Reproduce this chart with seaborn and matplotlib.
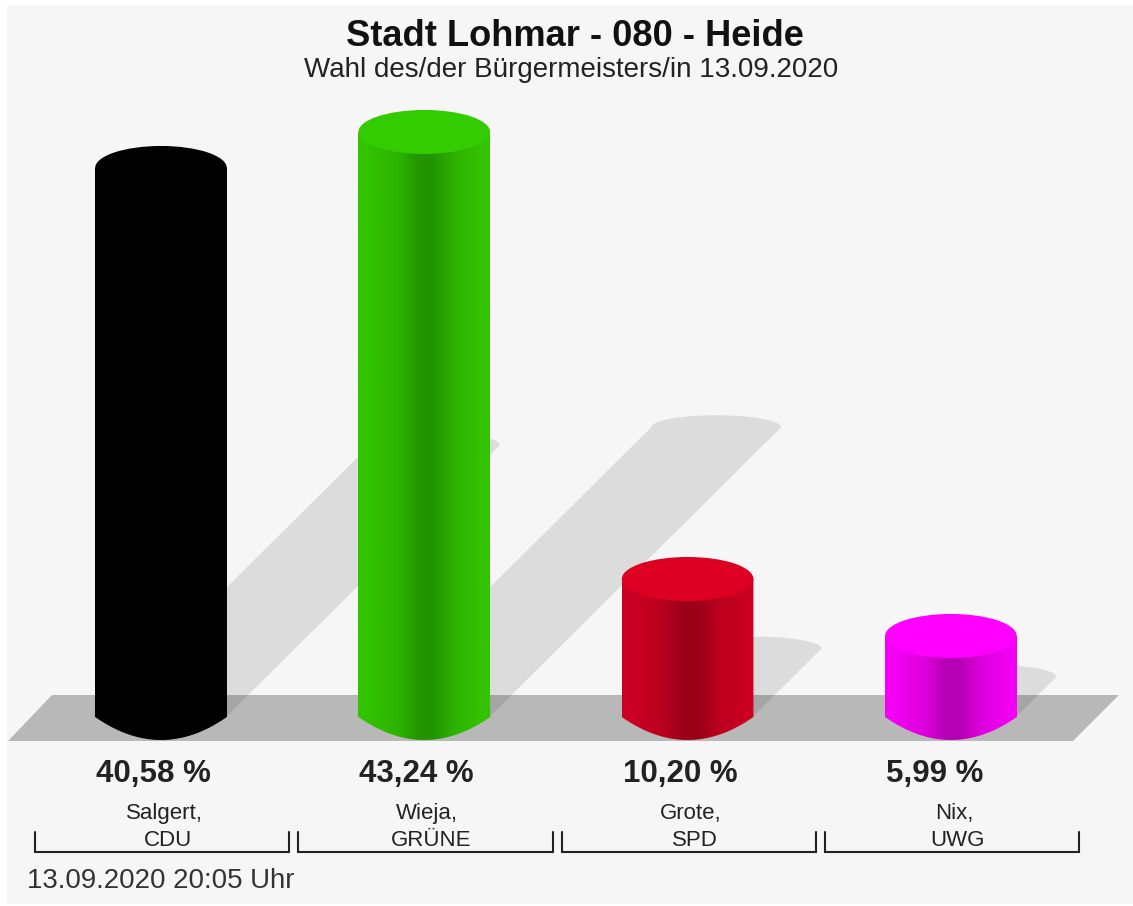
import numpy as np
import pandas as pd
import seaborn as sns
import matplotlib.pyplot as plt
from matplotlib.colors import LinearSegmentedColormap, to_rgb
from matplotlib.patches import Ellipse, Polygon, Rectangle
from matplotlib.path import Path

# Data
candidates = ['Salgert', 'Wieja', 'Grote', 'Nix']
parties = ['CDU', 'GRÜNE', 'SPD', 'UWG']
shares = [40.58, 43.24, 10.20, 5.99]
share_labels = ['40,58 %', '43,24 %', '10,20 %', '5,99 %']

# top / side edge / dark centre of each cylinder
bright = ['#000000', '#33cc00', '#dd0022', '#ff00ff']
side = ['#000000', '#33c400', '#cc0022', '#f400f4']
dark = ['#000000', '#229400', '#990018', '#b400b4']

title = 'Stadt Lohmar - 080 - Heide'
subtitle = 'Wahl des/der Bürgermeisters/in 13.09.2020'
stamp = '13.09.2020 20:05 Uhr'

W, H = 1133, 906
BAR_STEP = 263.3    # px between categories
FIRST_BAR = 161     # px centre of the first bar
PX_PER_PCT = 13.53  # px per percent
BASE = 717          # px row of zero


def xd(px):
    return (px - FIRST_BAR) / BAR_STEP


def yd(px):
    return (BASE - px) / PX_PER_PCT


sns.set_theme(style='white')
plt.rcParams['font.family'] = ['Liberation Sans', 'DejaVu Sans']

df = pd.DataFrame({'candidate': candidates, 'share': shares})

fig = plt.figure(figsize=(W / 100, H / 100), dpi=100, facecolor='white')
ax = fig.add_axes([0, 0, 1, 1])

sns.barplot(data=df, x='candidate', y='share', hue='candidate', palette=side,
            width=0.5, legend=False, saturation=1, linewidth=0, edgecolor='none', ax=ax)
bars = list(ax.patches)

# background panel and floor
ax.add_patch(Rectangle((xd(7), yd(904)), xd(W + 2) - xd(7), yd(5) - yd(904),
                       facecolor='#f6f6f6', edgecolor='none', zorder=0))
ax.add_patch(Polygon([(xd(8), yd(741)), (xd(52), yd(695)), (xd(1119), yd(695)), (xd(1073), yd(741))],
                     facecolor='black', alpha=0.25, edgecolor='none', zorder=1))

theta = np.linspace(0, np.pi, 60)
for i, bar in enumerate(bars):
    value = bar.get_height()
    left = bar.get_x()
    right = left + bar.get_width()
    mid = left + bar.get_width() / 2
    half_w = bar.get_width() / 2
    bar.set_zorder(3)

    # shadow falling back to the upper right, length follows the value
    sx = value * 6.75 / BAR_STEP
    sy = value * 6.7 / PX_PER_PCT
    sw = 65 / BAR_STEP
    cap_h = 12 / PX_PER_PCT
    cap = [(mid + sx + sw * np.cos(t), sy + cap_h * np.sin(t)) for t in theta]
    shadow = [(mid - sw, 0), (mid + sw, 0)] + cap
    ax.add_patch(Polygon(shadow, facecolor='black', alpha=0.1, edgecolor='none', zorder=2))

    # shaded side of the cylinder, the foot is a flat curve with sharp corners
    bottom_h = 23 / PX_PER_PCT
    outline = [(left, value), (right, value)]
    for u in np.linspace(1, -1, 80):
        outline.append((mid + half_w * u, -bottom_h * (1 - u ** 2)))
    outline.append((left, value))
    between = tuple(0.35 * np.array(to_rgb(dark[i])) + 0.65 * np.array(to_rgb(side[i])))
    cmap = LinearSegmentedColormap.from_list(
        'cyl' + str(i),
        [(0, side[i]), (0.06, side[i]), (0.3, between), (0.47, dark[i]), (0.56, dark[i]), (0.74, between), (0.96, side[i]), (1, side[i])])
    im = ax.imshow(np.linspace(0, 1, 256)[None, :], cmap=cmap, aspect='auto', zorder=4,
                   extent=[left, right, -bottom_h, value], interpolation='bilinear')
    im.set_clip_path(Path(outline), ax.transData)

    # top of the cylinder
    ax.add_patch(Ellipse((mid, value), bar.get_width(), 44 / PX_PER_PCT,
                         facecolor=bright[i], edgecolor='none', zorder=5))

    # share label starts at the left edge of the bar
    ax.text(left + 1 / BAR_STEP, yd(774), share_labels[i], ha='left', va='center',
            fontsize=22.5, fontweight='bold', color='#222222', zorder=6)

    # name and party under the bar, with the bracket
    ax.text(i + 3 / BAR_STEP, yd(813), candidates[i] + ',', ha='center', va='center',
            fontsize=16, color='#222222', zorder=6)
    ax.text(i + 7 / BAR_STEP, yd(840), parties[i], ha='center', va='center',
            fontsize=16, color='#222222', zorder=6)
    ax.plot([i - 0.478, i - 0.478, i + 0.488, i + 0.488],
            [yd(832), yd(852), yd(852), yd(832)], color='#222222', lw=1.5, zorder=6,
            solid_joinstyle='miter')

ax.text(xd(575), yd(36), title, ha='center', va='center', fontsize=26.1,
        fontweight='bold', color='#111111', zorder=6)
ax.text(xd(571), yd(70), subtitle, ha='center', va='center', fontsize=20,
        color='#222222', zorder=6)
ax.text(xd(27), yd(881), stamp, ha='left', va='center', fontsize=19.9,
        color='#333333', zorder=6)

ax.set_xlim(xd(0), xd(W))
ax.set_ylim(yd(H), yd(0))
ax.axis('off')

fig.savefig('out.png', dpi=100, facecolor='white')
